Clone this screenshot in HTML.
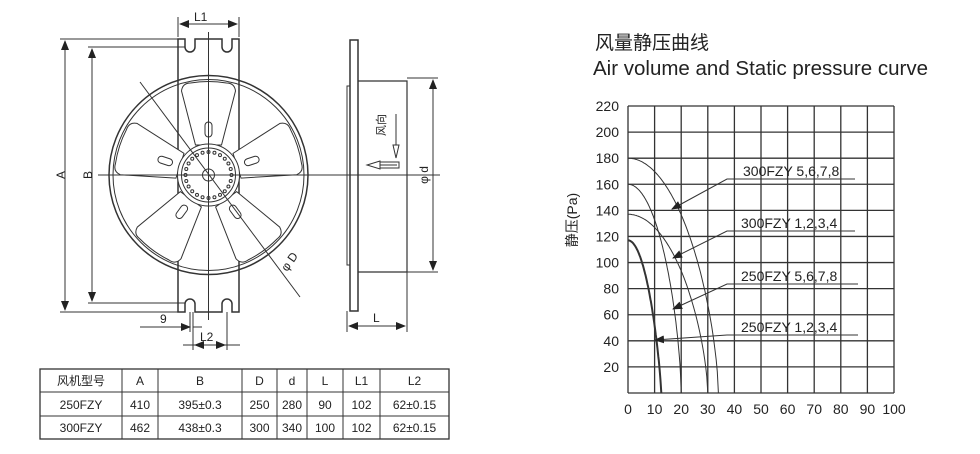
<!DOCTYPE html>
<html><head><meta charset="utf-8"><style>
html,body{margin:0;padding:0;background:#fff;}
svg{display:block}
text{font-family:"Liberation Sans","Noto Sans CJK SC",sans-serif;fill:#222}
</style></head><body>
<svg id="s" width="980" height="454" viewBox="0 0 980 454" xmlns="http://www.w3.org/2000/svg">
<defs>
<marker id="ar" markerWidth="10" markerHeight="8" refX="9" refY="4" orient="auto-start-reverse" markerUnits="userSpaceOnUse"><path d="M0,0 L10,4 L0,8 Z" fill="#222"/></marker>
</defs>
<g stroke="#333" fill="none" stroke-width="1">
<!-- plate -->
<path d="M178,39 H185 V47 a5,5 0 0 0 10,0 V39 H222 V47 a5,5 0 0 0 10,0 V39 H239 V312 H232 V304 a5,5 0 0 0 -10,0 V312 H195 V304 a5,5 0 0 0 -10,0 V312 H178 Z" stroke-width="1.5"/>
<circle cx="208.5" cy="175" r="99.5" stroke-width="1.5"/>
<circle cx="208.5" cy="175" r="95.5"/>
<g id="blades" transform="translate(208.5,175)"></g>
<circle cx="208.5" cy="175" r="31" fill="#fff"/>
<circle cx="208.5" cy="175" r="27"/>
<circle cx="208.5" cy="175" r="6"/>
<g id="dots"></g>
<!-- center lines -->
<line x1="208.5" y1="32" x2="208.5" y2="320"/>
<line x1="98" y1="175" x2="440" y2="175"/>
<line x1="140" y1="82" x2="300" y2="297"/>
<!-- A, B -->
<line x1="60" y1="39" x2="178" y2="39"/><line x1="60" y1="312" x2="178" y2="312"/>
<line x1="88" y1="47" x2="185" y2="47"/><line x1="88" y1="303" x2="185" y2="303"/>
<line x1="65" y1="41" x2="65" y2="310" marker-start="url(#ar)" marker-end="url(#ar)"/>
<line x1="92" y1="49" x2="92" y2="301" marker-start="url(#ar)" marker-end="url(#ar)"/>
<!-- L1 -->
<line x1="178" y1="17" x2="178" y2="37"/><line x1="239" y1="17" x2="239" y2="37"/>
<line x1="180" y1="24" x2="237" y2="24" marker-start="url(#ar)" marker-end="url(#ar)"/>
<!-- 9 / L2 -->
<line x1="190" y1="312" x2="190" y2="332"/><line x1="193" y1="312" x2="193" y2="350"/>
<line x1="227" y1="312" x2="227" y2="350"/>
<line x1="140" y1="327" x2="190" y2="327" marker-end="url(#ar)"/><line x1="193" y1="327" x2="202" y2="327"/>
<line x1="183" y1="345" x2="240" y2="345"/>
<line x1="195" y1="345" x2="225" y2="345" marker-start="url(#ar)" marker-end="url(#ar)"/>
<!-- side view -->
<rect x="350" y="40" width="8" height="271" stroke-width="1.5"/>
<rect x="347" y="86" width="3" height="179"/>
<path d="M358,81 H407 V272 H358" stroke-width="1.2"/>
<line x1="407" y1="78" x2="438" y2="78"/><line x1="407" y1="272" x2="438" y2="272"/>
<line x1="433" y1="80" x2="433" y2="270" marker-start="url(#ar)" marker-end="url(#ar)"/>
<line x1="347" y1="311" x2="347" y2="332"/><line x1="407" y1="272" x2="407" y2="332"/>
<line x1="349" y1="326" x2="405" y2="326" marker-start="url(#ar)" marker-end="url(#ar)"/>
<!-- wind arrows -->
<path d="M396,114 V145 M393,145 L396,158 L399,145 Z M397,165 H380 M380,161 L367,165 L380,169 Z M380,162 H399 V168 H380"/>
<!-- chart grid -->
<g id="grid" stroke-width="1.3"></g>
<g id="curves"></g>
<!-- leaders -->
<path d="M855,179 H727 L672,209" marker-end="url(#ar)"/>
<path d="M855,231 H727 L673,258" marker-end="url(#ar)"/>
<path d="M858,284 H727 L673,309" marker-end="url(#ar)"/>
<path d="M858,335 H727 L655,340" marker-end="url(#ar)"/>
<!-- table -->
<rect x="40" y="369" width="409" height="70" stroke-width="1.3"/>
<line x1="40" y1="392" x2="449" y2="392"/><line x1="40" y1="416" x2="449" y2="416"/>
<line x1="122" y1="369" x2="122" y2="439"/><line x1="158" y1="369" x2="158" y2="439"/>
<line x1="242" y1="369" x2="242" y2="439"/><line x1="277" y1="369" x2="277" y2="439"/>
<line x1="307" y1="369" x2="307" y2="439"/><line x1="343" y1="369" x2="343" y2="439"/>
<line x1="380" y1="369" x2="380" y2="439"/>
</g>
<g font-size="12">
<text x="194" y="21">L1</text>
<text x="60" y="180" transform="rotate(-90 60 175)" text-anchor="middle">A</text>
<text x="87" y="180" transform="rotate(-90 87 175)" text-anchor="middle">B</text>
<text x="160" y="323">9</text>
<text x="200" y="341">L2</text>
<text x="373" y="322">L</text>
<text x="285" y="268" transform="rotate(-55 290 268)">φ D</text>
<text x="428" y="175" transform="rotate(-90 428 175)" text-anchor="middle">φ d</text>
<text x="385" y="125" transform="rotate(-90 385 125)" text-anchor="middle" font-size="11">风向</text>
</g>
<text x="595" y="49" font-size="19">风量静压曲线</text>
<text x="593" y="75" font-size="20.5">Air volume and Static pressure curve</text>
<text x="577" y="220" font-size="14" transform="rotate(-90 577 220)" text-anchor="middle">静压(Pa)</text>
<g font-size="14">
<text x="743" y="176">300FZY 5,6,7,8</text>
<text x="741" y="228">300FZY 1,2,3,4</text>
<text x="741" y="281">250FZY 5,6,7,8</text>
<text x="741" y="332">250FZY 1,2,3,4</text>
</g>
<g id="lbl" font-size="14"></g>
<g font-size="12" text-anchor="middle">
<text x="81" y="385">风机型号</text><text x="140" y="385">A</text><text x="200" y="385">B</text><text x="259.5" y="385">D</text><text x="292" y="385">d</text><text x="325" y="385">L</text><text x="361.5" y="385">L1</text><text x="414.5" y="385">L2</text>
<text x="81" y="409">250FZY</text><text x="140" y="409">410</text><text x="200" y="409">395±0.3</text><text x="259.5" y="409">250</text><text x="292" y="409">280</text><text x="325" y="409">90</text><text x="361.5" y="409">102</text><text x="414.5" y="409">62±0.15</text>
<text x="81" y="432">300FZY</text><text x="140" y="432">462</text><text x="200" y="432">438±0.3</text><text x="259.5" y="432">300</text><text x="292" y="432">340</text><text x="325" y="432">100</text><text x="361.5" y="432">102</text><text x="414.5" y="432">62±0.15</text>
</g>
</svg>
<script>
var NS="http://www.w3.org/2000/svg";
function el(p,t,a,txt){var e=document.createElementNS(NS,t);for(var k in a)e.setAttribute(k,a[k]);if(txt!=null)e.textContent=txt;document.getElementById(p).appendChild(e);}
[-90,-18,54,126,198].forEach(function(a){
 el("blades","path",{d:"M30,-13 L84,-27 Q92,-26 92,-18 Q95,0 92,18 Q92,26 84,27 L30,13 Z",fill:"#fff",transform:"rotate("+a+")"});
 el("blades","rect",{x:38,y:-3.5,width:15,height:7,rx:3.5,transform:"rotate("+a+")"});
});
for(var i=0;i<24;i++){var t=i/24*2*Math.PI;el("dots","circle",{cx:208.5+23*Math.cos(t),cy:175+23*Math.sin(t),r:1.5});}
var X0=628,X1=894,Y0=393,Y1=106;
for(var i=0;i<=10;i++){var x=X0+(X1-X0)*i/10;el("grid","line",{x1:x,y1:Y1,x2:x,y2:Y0});
 el("lbl","text",{x:x,y:414,"text-anchor":"middle"},String(i*10));}
for(var j=0;j<=11;j++){var y=Y0-(Y0-Y1)*j/11;el("grid","line",{x1:X0,y1:y,x2:X1,y2:y});
 if(j>0)el("lbl","text",{x:619,y:y+5,"text-anchor":"end"},String(j*20));}
function X(v){return X0+v*2.66}function Y(p){return Y0-p*(Y0-Y1)/220}
[[180,34,0.65,1],[160,20,0.65,1],[137,30,0.65,1],[117,12.5,0.8,2]].forEach(function(c){
 var d="";for(var k=0;k<=80;k++){var v=c[1]*k/80;var p=c[0]*Math.pow(Math.max(0,1-Math.pow(v/c[1],2)),c[2]);d+=(k?"L":"M")+X(v).toFixed(1)+","+Y(p).toFixed(1);}
 el("curves","path",{d:d,"stroke-width":c[3]});
});
</script>
</body></html>
